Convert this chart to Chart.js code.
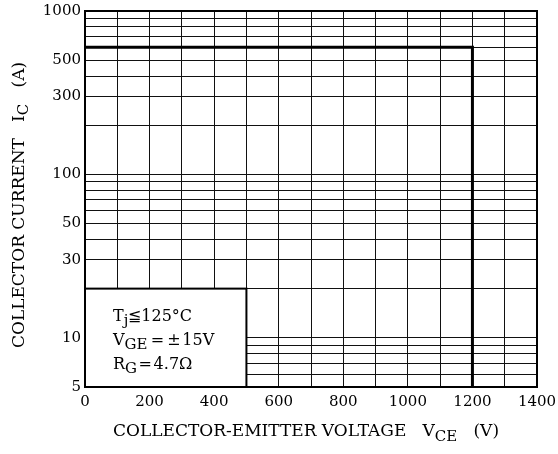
<!DOCTYPE html>
<html>
<head>
<meta charset="utf-8">
<script src="https://cdn.jsdelivr.net/npm/chart.js@4.4.1/dist/chart.umd.min.js"></script>
<style>
  html, body { margin: 0; padding: 0; background: #fff; }
  #wrap { width: 558px; height: 454px; }
</style>
</head>
<body>
<div id="wrap"><canvas id="c" width="558" height="454"></canvas></div>
<script>
// Reverse-bias safe operating area boundary (V, A)
const rbsoaVoltage = [0, 1200, 1200];
const rbsoaCurrent = [600, 600, 5];

// Axis ticks
const voltageLabels = [0, 200, 400, 600, 800, 1000, 1200, 1400];
const currentGrid = [5, 6, 7, 8, 9, 10, 20, 30, 40, 50, 60, 70, 80, 90,
                     100, 200, 300, 400, 500, 600, 700, 800, 900, 1000];
const currentLabels = [5, 10, 30, 50, 100, 300, 500, 1000];

// Test-condition panel corner (V, A)
const panelVoltage = [0, 500];
const panelCurrent = [5, 20];

// Test conditions, as [main, subscript, rest]
const conditionLines = [
  ['T', 'j', '\u2266125\u00B0C'],
  ['V', 'GE', '\u2009=\u2009\u00B1\u200A15V'],
  ['R', 'G', '\u200A=\u200A4.7\u03A9']
];

const FONT = '"DejaVu Serif", "Liberation Serif", serif';

function drawRich(ctx, parts, x, y, size, subSize, subDy) {
  let cx = x;
  for (const p of parts) {
    ctx.font = (p.sub ? subSize : size) + 'px ' + FONT;
    ctx.fillText(p.t, cx, y + (p.sub ? subDy : 0));
    cx += ctx.measureText(p.t).width;
  }
  return cx - x;
}
function richWidth(ctx, parts, size, subSize) {
  let w = 0;
  for (const p of parts) {
    ctx.font = (p.sub ? subSize : size) + 'px ' + FONT;
    w += ctx.measureText(p.t).width;
  }
  return w;
}

const decorations = {
  id: 'decorations',
  afterDraw(chart) {
    const { ctx, chartArea: a, scales: { x, y } } = chart;
    ctx.save();

    // Condition panel covering the lower-left corner of the grid
    const px0 = x.getPixelForValue(panelVoltage[0]);
    const px1 = x.getPixelForValue(panelVoltage[1]);
    const py0 = y.getPixelForValue(panelCurrent[1]);
    const py1 = y.getPixelForValue(panelCurrent[0]);
    ctx.fillStyle = '#fff';
    ctx.fillRect(px0, py0, px1 - px0, py1 - py0);
    ctx.strokeStyle = '#000';
    ctx.lineWidth = 2;
    ctx.strokeRect(px0, py0, px1 - px0, py1 - py0);

    // Plot frame
    ctx.lineWidth = 2;
    ctx.strokeRect(a.left, a.top, a.right - a.left, a.bottom - a.top);

    ctx.fillStyle = '#000';
    ctx.textBaseline = 'alphabetic';
    ctx.textAlign = 'left';

    // Condition text
    const baselines = [321, 345, 369];
    conditionLines.forEach((ln, i) => {
      drawRich(ctx, [{ t: ln[0] }, { t: ln[1], sub: true }, { t: ln[2] }],
               px0 + 28, baselines[i], 16, 15, 4);
    });

    // X axis title
    const xt = [{ t: 'COLLECTOR-EMITTER VOLTAGE   V' }, { t: 'CE', sub: true }, { t: '   (V)' }];
    const xw = richWidth(ctx, xt, 17, 15);
    drawRich(ctx, xt, 306 - xw / 2, 436, 17, 15, 5);

    // Y axis title (rotated)
    const yt = [{ t: 'COLLECTOR CURRENT   I' }, { t: 'C', sub: true }, { t: '   (A)' }];
    const yw = richWidth(ctx, yt, 17, 15);
    ctx.translate(24, 205);
    ctx.rotate(-Math.PI / 2);
    drawRich(ctx, yt, -yw / 2, 0, 17, 15, 4);

    ctx.restore();
  }
};

new Chart(document.getElementById('c'), {
  type: 'scatter',
  data: {
    datasets: [{
      data: rbsoaVoltage.map((v, i) => ({ x: v, y: rbsoaCurrent[i] })),
      showLine: true,
      borderColor: '#000',
      borderWidth: 3,
      pointRadius: 0,
      fill: false,
      tension: 0
    }]
  },
  options: {
    responsive: false,
    animation: false,
    devicePixelRatio: 1,
    layout: { padding: { top: 11, right: 21, left: 0, bottom: 0 } },
    plugins: { legend: { display: false }, tooltip: { enabled: false } },
    scales: {
      x: {
        type: 'linear',
        min: 0, max: 1400,
        ticks: {
          stepSize: 100,
          color: '#000',
          font: { family: FONT, size: 15 },
          padding: 6,
          maxRotation: 0,
          autoSkip: false,
          callback: v => voltageLabels.includes(v) ? String(v) : ''
        },
        grid: { color: '#111', lineWidth: 1, drawTicks: false },
        border: { color: '#000', width: 2 },
        afterFit: s => { s.height = 67; s.paddingLeft = 0; s.paddingRight = 0; }
      },
      y: {
        type: 'logarithmic',
        min: 5, max: 1000,
        afterBuildTicks: s => { s.ticks = currentGrid.map(v => ({ value: v })); },
        ticks: {
          color: '#000',
          font: { family: FONT, size: 15 },
          padding: 4,
          autoSkip: false,
          callback: v => currentLabels.includes(v) ? String(v) : ''
        },
        grid: { color: '#111', lineWidth: 1, drawTicks: false },
        border: { color: '#000', width: 2 },
        afterFit: s => { s.width = 85; s.paddingTop = 0; s.paddingBottom = 0; }
      }
    }
  },
  plugins: [decorations]
});
</script>
</body>
</html>
